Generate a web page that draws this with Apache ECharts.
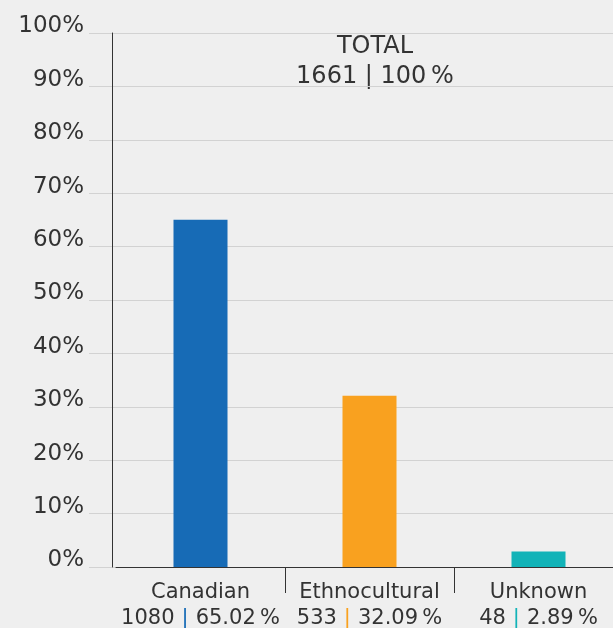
<!DOCTYPE html>
<html>
<head>
<meta charset="utf-8">
<script src="https://cdn.jsdelivr.net/npm/echarts@6/dist/echarts.min.js"></script>
<style>
html,body{margin:0;padding:0;background:#efefef;}
#c{width:613px;height:628px;}
</style>
</head>
<body>
<div id="c"></div>
<script>
var categories = ['Canadian', 'Ethnocultural', 'Unknown'];
var counts = [1080, 533, 48];
var percents = [65.02, 32.09, 2.89];
var barColors = ['#176bb6', '#f9a11f', '#12b3b8'];
var total = 1661;
var totalPercent = 100;
var yTicks = [0, 10, 20, 30, 40, 50, 60, 70, 80, 90, 100];

var FONT = '"DejaVu Sans", Verdana, sans-serif';
var TXT = '#333333';

function fmtPct(v) { return v.toFixed(2) + '\u2009%'; }

var rich = {
  name: { fontFamily: FONT, fontSize: 21, color: TXT, lineHeight: 26 },
  num: { fontFamily: FONT, fontSize: 21, color: TXT, lineHeight: 26 }
};
barColors.forEach(function (c, i) {
  rich['b' + i] = { fontFamily: FONT, fontSize: 21, color: c, lineHeight: 26, padding: [0, 7, 0, 7] };
});

var chart = echarts.init(document.getElementById('c'));
chart.setOption({
  backgroundColor: '#efefef',
  animation: false,
  grid: [
    { left: 89, right: 0, top: 33, bottom: 61, outerBoundsMode: 'none', containLabel: false },
    { left: 116, width: 507, top: 33, bottom: 61, outerBoundsMode: 'none', containLabel: false }
  ],
  graphic: [{
    type: 'text',
    x: 375,
    y: 32,
    style: {
      text: 'TOTAL\n' + total + ' | ' + totalPercent + '\u2009%',
      align: 'center',
      verticalAlign: 'top',
      fontFamily: FONT,
      fontSize: 24,
      lineHeight: 30,
      fill: TXT
    }
  }],
  xAxis: [
    { gridIndex: 0, type: 'value', show: false, min: 0, max: 1 },
    {
      gridIndex: 1,
      type: 'category',
      data: categories,
      axisLine: { show: true, lineStyle: { color: '#333', width: 1 } },
      axisTick: {
        show: true,
        length: 26,
        interval: function (index) { return index >= 1; },
        lineStyle: { color: '#333', width: 1 }
      },
      axisLabel: {
        margin: 13,
        interval: 0,
        formatter: function (value, idx) {
          return '{name|' + value + '}\n{num|' + counts[idx] + '}{b' + idx + '||}{num|' + fmtPct(percents[idx]) + '}';
        },
        rich: rich
      }
    }
  ],
  yAxis: [
    {
      gridIndex: 0,
      type: 'value',
      min: 0,
      max: 100,
      interval: 10,
      axisLine: { show: false },
      axisTick: { show: false },
      splitLine: { show: true, lineStyle: { color: '#d2d2d2', width: 1 } },
      axisLabel: {
        margin: 5,
        formatter: '{value}%',
        fontFamily: FONT,
        fontSize: 23,
        color: TXT,
        verticalAlign: 'bottom',
        lineHeight: 13
      }
    },
    {
      gridIndex: 1,
      type: 'value',
      min: 0,
      max: 100,
      interval: 10,
      offset: 4,
      axisLine: { show: true, lineStyle: { color: '#333', width: 1 } },
      axisTick: { show: false },
      axisLabel: { show: false },
      splitLine: { show: false }
    }
  ],
  series: [{
    type: 'bar',
    xAxisIndex: 1,
    yAxisIndex: 1,
    barWidth: 54,
    data: percents.map(function (v, i) {
      return { value: v, itemStyle: { color: barColors[i] } };
    })
  }]
});
</script>
</body>
</html>
